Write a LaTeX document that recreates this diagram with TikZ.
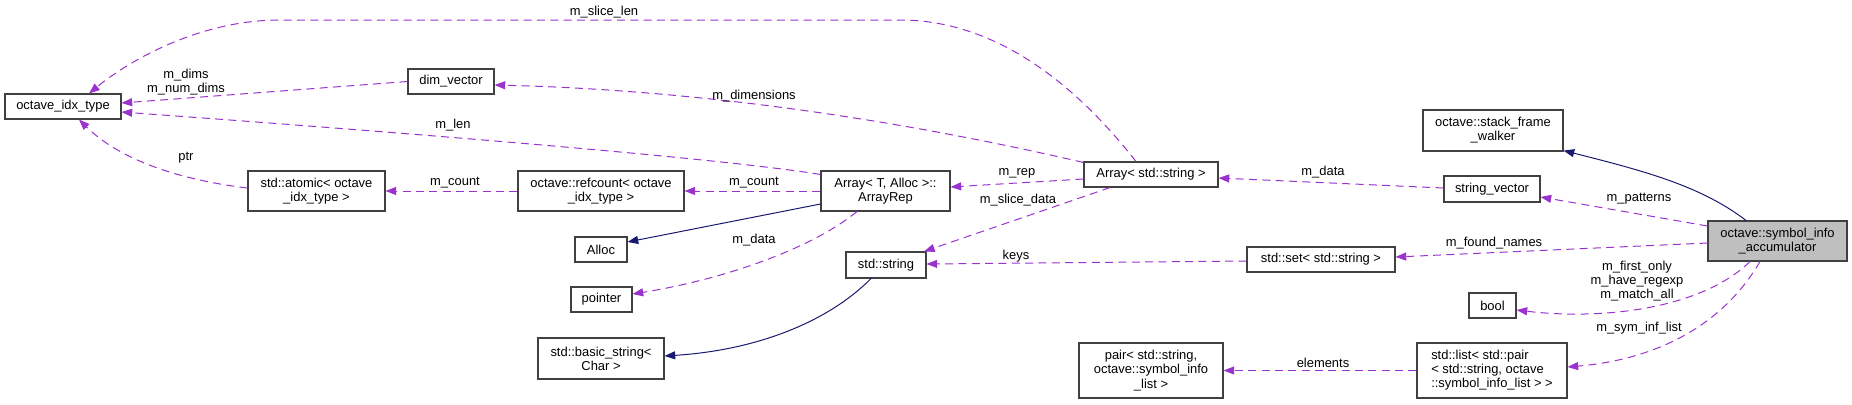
\documentclass[tikz,border=0pt]{standalone}
\usepackage{fontspec}
\setmainfont{Liberation Sans}
\usetikzlibrary{arrows.meta,calc}
\definecolor{dep}{HTML}{9A32CD}
\definecolor{inh}{HTML}{191970}
\definecolor{boxline}{HTML}{404040}
\definecolor{hilite}{HTML}{BFBFBF}
\begin{document}
\begin{tikzpicture}[x=0.75pt,y=-0.75pt,
  font=\fontsize{9.7pt}{10.6pt}\selectfont,
  box/.style={draw=boxline,line width=0.8pt,inner sep=0pt,align=center,fill=white},
  deparrow/.style={draw=dep,line width=0.75pt,dash pattern=on 6pt off 4pt,-{Triangle[length=8pt,width=6pt,fill=dep]}},
  inharrow/.style={draw=inh,line width=0.75pt,-{Triangle[length=8pt,width=6pt,fill=inh]}},
  lbl/.style={inner sep=0pt,align=center}]
\useasboundingbox (0,0) rectangle (1852,404);
% nodes
\node[box,minimum width=87pt,minimum height=18.75pt] (idx) at (63,106.5) {octave\_idx\_type};
\node[box,minimum width=64.5pt,minimum height=18.75pt] (dimv) at (451,81.5) {dim\_vector};
\node[box,minimum width=102.75pt,minimum height=30pt] (atomic) at (316.5,191) {std::atomic< octave\\\_idx\_type >};
\node[box,minimum width=124.5pt,minimum height=30pt] (refcount) at (601,191) {octave::refcount< octave\\\_idx\_type >};
\node[box,minimum width=96.75pt,minimum height=30pt] (arep) at (885.5,191) {Array< T, Alloc >::\\ArrayRep};
\node[box,minimum width=100.5pt,minimum height=18.75pt] (arrstr) at (1151,174.5) {Array< std::string >};
\node[box,minimum width=39pt,minimum height=18.75pt] (alloc) at (601,249.5) {Alloc};
\node[box,minimum width=45.75pt,minimum height=18.75pt] (pointer) at (601.5,299.5) {pointer};
\node[box,minimum width=94.5pt,minimum height=30.75pt] (bstring) at (601,358.5) {std::basic\_string<\\Char >};
\node[box,minimum width=60pt,minimum height=19.5pt] (stdstring) at (886,265) {std::string};
\node[box,minimum width=108pt,minimum height=41.25pt] (pair) at (1151,370.5) {pair< std::string,\\octave::symbol\_info\\\_list >};
\node[box,minimum width=105pt,minimum height=30.75pt] (sfw) at (1493,130.5) {octave::stack\_frame\\\_walker};
\node[box,minimum width=72pt,minimum height=19.5pt] (strvec) at (1492,189) {string\_vector};
\node[box,minimum width=104.25pt,minimum height=30pt,fill=hilite] (sia) at (1777.5,241) {octave::symbol\_info\\\_accumulator};
\node[box,minimum width=111pt,minimum height=18.75pt] (stdset) at (1321,259.5) {std::set< std::string >};
\node[box,minimum width=35.25pt,minimum height=18.75pt] (bool) at (1492.5,305.5) {bool};
\node[box,minimum width=112.5pt,minimum height=41.25pt,align=left] (stdlist) at (1492,370.5) {std::list< std::pair\\< std::string, octave\\::symbol\_info\_list > >};
% connectors
\draw[deparrow] ($(arrstr.north)+(-15,0)$) .. controls (1080,90) and (1000,20) .. (900,20) -- (280,20) .. controls (200,20) and (130,60) .. ($(idx.north)+(26,0)$);
\draw[deparrow] (dimv.west) -- ($(idx.east)+(0,-3.5)$);
\draw[deparrow] ($(arep.north west)+(0,4)$) .. controls (700,155) and (300,125) .. ($(idx.east)+(0,5.5)$);
\draw[deparrow] ($(atomic.west)+(0,-3)$) .. controls (180,180) and (120,160) .. ($(idx.south)+(16,0)$);
\draw[deparrow] (refcount.west) -- (atomic.east);
\draw[deparrow] (arep.west) -- (refcount.east);
\draw[deparrow] ($(arrstr.north west)+(0,1)$) .. controls (900,120) and (700,90) .. ($(dimv.east)+(0,3.5)$);
\draw[deparrow] ($(arrstr.west)+(0,4.5)$) -- ($(arep.east)+(0,-4)$);
\draw[inharrow] ($(arep.west)+(0,13)$) -- ($(alloc.east)+(0,-7.5)$);
\draw[deparrow] ($(arep.south)+(-28.5,0)$) .. controls (810,250) and (720,280) .. ($(pointer.east)+(0,-5.5)$);
\draw[deparrow] ($(arrstr.south)+(-41,0)$) -- ($(stdstring.north)+(38,0)$);
\draw[inharrow] ($(stdstring.south)+(-15,0)$) .. controls (830,320) and (760,350) .. ($(bstring.east)+(0,-2.5)$);
\draw[deparrow] ($(stdset.west)+(0,1.5)$) -- ($(stdstring.east)+(0,-1)$);
\draw[deparrow] ($(strvec.west)+(0,-1)$) -- ($(arrstr.east)+(0,3.5)$);
\draw[inharrow] ($(sia.north)+(-31.5,0)$) .. controls (1700,185) and (1640,170) .. ($(sfw.south east)+(0,-1)$);
\draw[deparrow] ($(sia.west)+(0,-15)$) -- ($(strvec.east)+(0,8)$);
\draw[deparrow] ($(sia.west)+(0,2)$) -- ($(stdset.east)+(0,-2.5)$);
\draw[deparrow] ($(sia.south)+(-27.5,0)$) .. controls (1700,310) and (1600,320) .. ($(bool.east)+(0,4.5)$);
\draw[deparrow] ($(sia.south)+(-17.5,0)$) .. controls (1720,330) and (1650,360) .. ($(stdlist.east)+(0,-3.5)$);
\draw[deparrow] (stdlist.west) -- (pair.east);
% labels
\node[lbl] (l1) at (604,12) {m\_slice\_len};
\node[lbl] (l2) at (186,82) {m\_dims\\m\_num\_dims};
\node[lbl] (l3) at (453,125) {m\_len};
\node[lbl] (l4) at (186,158) {ptr};
\node[lbl] (l5) at (455,183) {m\_count};
\node[lbl] (l6) at (754,183) {m\_count};
\node[lbl] (l7) at (754,96) {m\_dimensions};
\node[lbl] (l8) at (1017,173) {m\_rep};
\node[lbl] (l9) at (1018,200) {m\_slice\_data};
\node[lbl] (l10) at (754,240) {m\_data};
\node[lbl] (l11) at (1016,256) {keys};
\node[lbl] (l12) at (1323,172) {m\_data};
\node[lbl] (l13) at (1639,199) {m\_patterns};
\node[lbl] (l14) at (1494,243) {m\_found\_names};
\node[lbl] (l15) at (1637,281) {m\_first\_only\\m\_have\_regexp\\m\_match\_all};
\node[lbl] (l16) at (1639,328) {m\_sym\_inf\_list};
\node[lbl] (l17) at (1323,363) {elements};
\end{tikzpicture}
\end{document}
